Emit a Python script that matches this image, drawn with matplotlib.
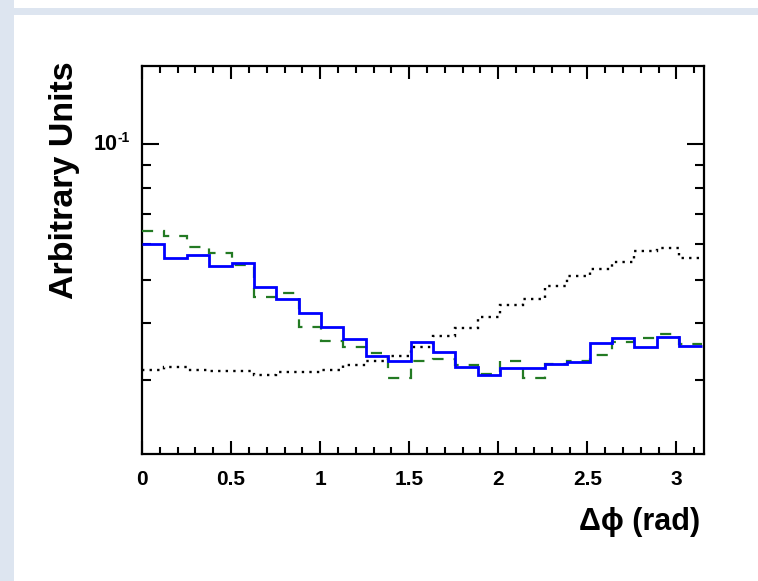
import numpy as np
import matplotlib
matplotlib.use("Agg")
import matplotlib.pyplot as plt
from matplotlib.patches import Rectangle
from matplotlib.ticker import FixedLocator, FixedFormatter, NullFormatter
from matplotlib.transforms import blended_transform_factory, ScaledTranslation

plt.rcParams['font.family'] = ['Liberation Sans', 'DejaVu Sans']

# ---- data ----
n_bins = 25
bin_edges = np.linspace(0, np.pi, n_bins + 1)

blue_values = [0.0600, 0.0558, 0.0568, 0.0537, 0.0544, 0.0481, 0.0453, 0.0422,
               0.0393, 0.0369, 0.0339, 0.0330, 0.0363, 0.0346, 0.0320, 0.0307,
               0.0319, 0.0318, 0.0325, 0.0328, 0.0361, 0.0371, 0.0354, 0.0373,
               0.0356]
green_values = [0.0642, 0.0626, 0.0592, 0.0573, 0.0539, 0.0457, 0.0467, 0.0392,
                0.0366, 0.0354, 0.0344, 0.0302, 0.0330, 0.0333, 0.0323, 0.0309,
                0.0329, 0.0303, 0.0325, 0.0329, 0.0340, 0.0364, 0.0371, 0.0379,
                0.0360]
dotted_values = [0.0315, 0.0320, 0.0315, 0.0314, 0.0314, 0.0307, 0.0311, 0.0311,
                 0.0315, 0.0323, 0.0330, 0.0339, 0.0355, 0.0375, 0.0391, 0.0414,
                 0.0438, 0.0453, 0.0483, 0.0508, 0.0528, 0.0547, 0.0580, 0.0587,
                 0.0558]

x_major_ticks = [0, 0.5, 1, 1.5, 2, 2.5, 3]
x_tick_labels = ['0', '0.5', '1', '1.5', '2', '2.5', '3']
y_major_ticks = [0.1]
y_tick_base = '10'
y_tick_exp = '-1'
y_minor_ticks = [0.03, 0.04, 0.05, 0.06, 0.07, 0.08, 0.09]

W, H = 758, 581
fig = plt.figure(figsize=(W / 100, H / 100), dpi=100)
fig.patch.set_facecolor('white')

band = '#dde5f0'
fig.patches.append(Rectangle((0, 0), 14 / W, 1, transform=fig.transFigure,
                             facecolor=band, edgecolor='none', zorder=0))
fig.patches.append(Rectangle((14 / W, 1 - 14.5 / H), 1, 6.5 / H, transform=fig.transFigure,
                             facecolor=band, edgecolor='none', zorder=0))

ax = fig.add_axes([142 / W, 1 - 454 / H, (704 - 142) / W, (454 - 66) / H])
ax.set_yscale('log')

ax.stairs(dotted_values, bin_edges, baseline=None, color='black',
          linewidth=1.7, linestyle=(0, (1.0, 2.2)), zorder=2)
ax.stairs(green_values, bin_edges, baseline=None, color='#237a23',
          linewidth=1.6, linestyle=(0, (5, 4.5)), zorder=3)
ax.stairs(blue_values, bin_edges, baseline=None, color='#0000ff',
          linewidth=2.0, zorder=4)

ax.set_xlim(0, 3.155)
ax.set_ylim(0.0205, 0.149)

ax.xaxis.set_major_locator(FixedLocator(x_major_ticks))
ax.xaxis.set_major_formatter(FixedFormatter(x_tick_labels))
ax.xaxis.set_minor_locator(FixedLocator(np.arange(0, 3.16, 0.1)))
ax.yaxis.set_major_locator(FixedLocator(y_major_ticks))
ax.yaxis.set_major_formatter(FixedFormatter(['']))
ax.yaxis.set_minor_locator(FixedLocator(y_minor_ticks))
ax.yaxis.set_minor_formatter(NullFormatter())

ax.tick_params(axis='both', which='both', direction='in', top=True, right=True,
               width=1.5, color='black')
ax.tick_params(axis='x', which='major', length=9.5, pad=11.5, labelsize=15)
ax.tick_params(axis='x', which='minor', length=5)
ax.tick_params(axis='y', which='major', length=12.5, pad=10)
ax.tick_params(axis='y', which='minor', length=6.5)
for lab in ax.get_xticklabels():
    lab.set_fontweight('bold')

for s in ax.spines.values():
    s.set_linewidth(1.6)

# y major tick label "10^-1"
tr = blended_transform_factory(fig.transFigure, ax.transData)
for v in y_major_ticks:
    ax.text(118 / W, v, y_tick_base, transform=tr, ha='right', va='center',
            fontsize=15.5, fontweight='bold')
    ax.text(118 / W, v, y_tick_exp,
            transform=tr + ScaledTranslation(0, 6 / 100, fig.dpi_scale_trans),
            ha='left', va='center', fontsize=10, fontweight='bold')

fig.text(64 / W, 1 - 61 / H, 'Arbitrary Units', rotation=90, ha='center', va='top',
         fontsize=24.5, fontweight='bold')
fig.text(700 / W, 1 - 522 / H, 'Δϕ (rad)', ha='right', va='center',
         fontsize=22, fontweight='bold')

fig.savefig('out.png', dpi=100)
